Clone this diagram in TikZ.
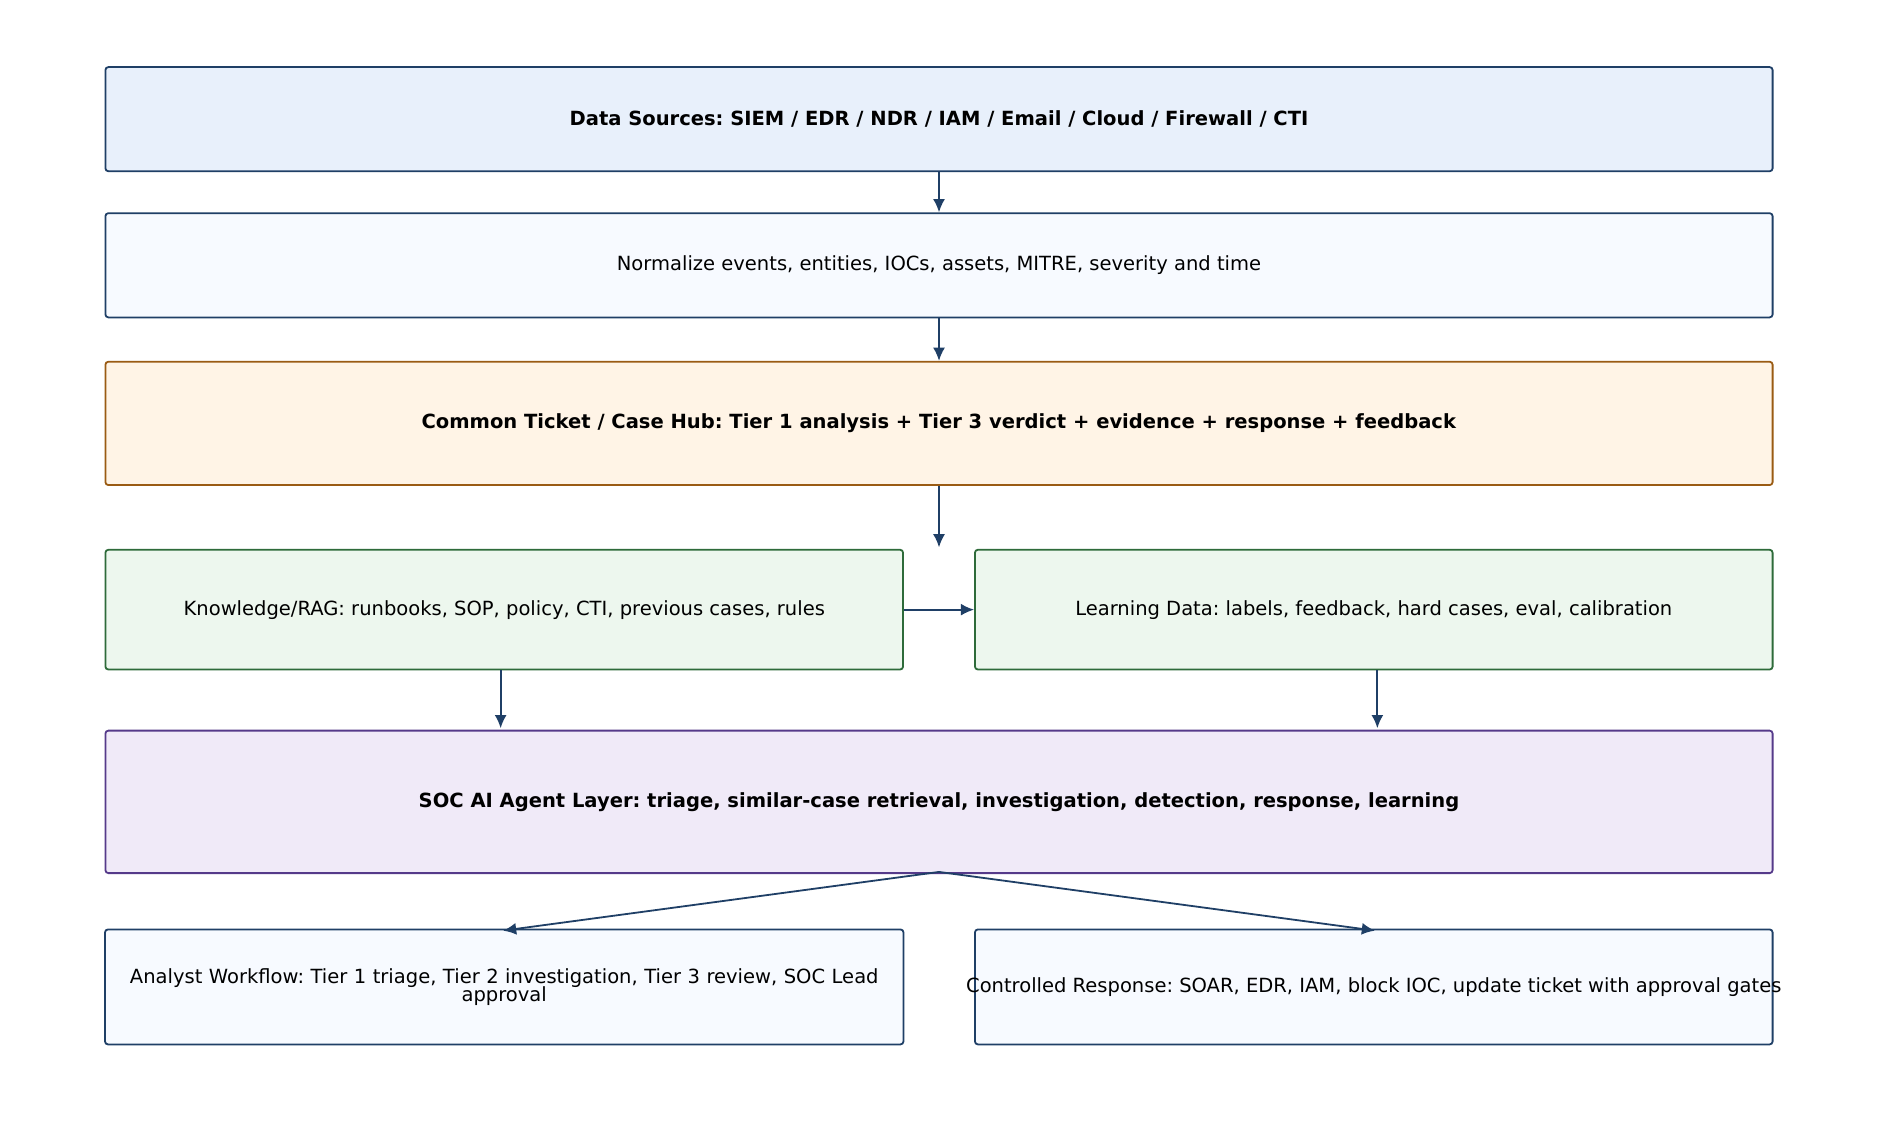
\documentclass[tikz,border=0pt]{standalone}
\usepackage{fontspec}
\setmainfont{DejaVu Sans}
\usetikzlibrary{arrows.meta}
\definecolor{bl}{HTML}{1F3F66}
\definecolor{br}{HTML}{9A5B13}
\definecolor{gr}{HTML}{2E6B3A}
\definecolor{pu}{HTML}{553A8A}
\definecolor{fds}{HTML}{E8F0FB}
\definecolor{fnm}{HTML}{F7FAFF}
\definecolor{fhub}{HTML}{FFF4E6}
\definecolor{fgr}{HTML}{EDF7EE}
\definecolor{fpu}{HTML}{F0EAF8}
\tikzset{
 box/.style={draw=bl,line width=1.5pt,rounded corners=2.5pt,fill=#1,align=center,font=\fontsize{16.3}{18}\selectfont},
 arr/.style={draw=bl,line width=1.5pt,-{Latex[length=11pt,width=10pt]}}
}
\begin{document}
\frenchspacing
\begin{tikzpicture}[x=1pt,y=-1pt]
\useasboundingbox[fill=white] (0,0) rectangle (1568,948.5);
\node[box=fds] (ds) at (784,99.5) [minimum width=1392pt,minimum height=87pt] {\textbf{Data Sources: SIEM / EDR / NDR / IAM / Email / Cloud / Firewall / CTI}};
\node[box=fnm] (nm) at (784,221.5) [minimum width=1392pt,minimum height=87pt] {Normalize events, entities, IOCs, assets, MITRE, severity and time};
\node[box=fhub,draw=br] (hub) at (784,353.5) [minimum width=1392pt,minimum height=103pt] {\textbf{Common Ticket / Case Hub: Tier 1 analysis + Tier 3 verdict + evidence + response + feedback}};
\node[box=fgr,draw=gr] (kr) at (421,509) [minimum width=666pt,minimum height=100pt] {Knowledge/RAG: runbooks, SOP, policy, CTI, previous cases, rules};
\node[box=fgr,draw=gr] (ld) at (1147,509) [minimum width=666pt,minimum height=100pt] {Learning Data: labels, feedback, hard cases, eval, calibration};
\node[box=fpu,draw=pu] (ai) at (784,669.5) [minimum width=1392pt,minimum height=119pt] {\textbf{SOC AI Agent Layer: triage, similar-case retrieval, investigation, detection, response, learning}};
\node[box=fnm,text width=660pt] (aw) at (421,824) [minimum width=666pt,minimum height=96pt] {Analyst Workflow: Tier 1 triage, Tier 2 investigation, Tier 3 review, SOC Lead\\[-3pt]approval};
\node[box=fnm,inner sep=0pt] (cr) at (1147,824) [minimum width=666pt,minimum height=96pt] {\makebox[0pt]{Controlled Response: SOAR, EDR, IAM, block IOC, update ticket with approval gates}};
\coordinate (hubend) at (784,457);
\coordinate (aiout) at (784,728);
\coordinate (awin) at (420,777);
\coordinate (crin) at (1148,777);
\draw[arr] (ds) -- (nm);
\draw[arr] (nm) -- (hub);
\draw[arr] (hub) -- (hubend);
\draw[arr] (kr) -- (ld);
\draw[arr] (kr.south -| 418,0) -- (418,608);
\draw[arr] (ld.south -| 1150,0) -- (1150,608);
\draw[arr] (aiout) -- (awin);
\draw[arr] (aiout) -- (crin);
\end{tikzpicture}
\end{document}
